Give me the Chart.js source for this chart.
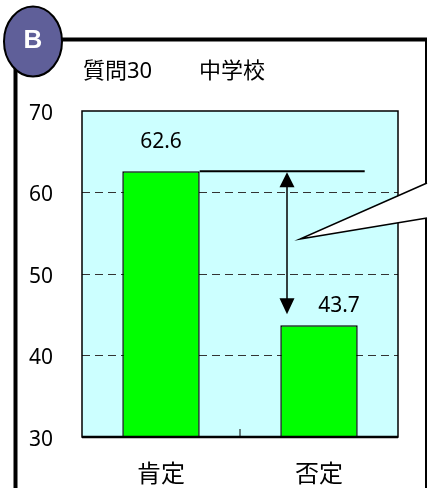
<!DOCTYPE html>
<html lang="ja">
<head>
<meta charset="UTF-8">
<title>質問30 中学校</title>
<script src="https://cdn.jsdelivr.net/npm/chart.js"></script>
<style>
  body { margin: 0; background: #fff; }
  #wrap { width: 428px; height: 488px; }
</style>
</head>
<body>
<div id="wrap"><canvas id="chart" width="428" height="488"></canvas></div>
<script>
// data
const categories = ['肯定', '否定'];
const values = [62.6, 43.7];
const yTicks = [30, 40, 50, 60, 70];
const titleLeft = '質問30';
const titleRight = '中学校';
const badge = 'B';

// latin digits from Noto Sans, kanji fall through to the CJK face
const FONT = '"Noto Sans", "Noto Sans CJK JP", sans-serif';

// page frame, callout, badge, arrow and value labels
const decor = {
  id: 'decor',
  beforeDraw(chart) {
    const ctx = chart.ctx, a = chart.chartArea;
    ctx.save();
    ctx.fillStyle = '#fff';
    ctx.fillRect(0, 0, chart.width, chart.height);
    ctx.fillStyle = '#ccffff';
    ctx.fillRect(a.left, a.top, a.right - a.left, a.bottom - a.top);
    ctx.restore();
  },
  afterDatasetsDraw(chart) {
    const ctx = chart.ctx, a = chart.chartArea;
    const y = chart.scales.y;
    const bars = chart.getDatasetMeta(0).data;
    ctx.save();

    // plot border
    ctx.strokeStyle = '#000';
    ctx.lineWidth = 1.5;
    ctx.strokeRect(a.left, a.top, a.right - a.left, a.bottom - a.top);
    ctx.lineWidth = 2.5;
    ctx.beginPath();
    ctx.moveTo(a.left, a.bottom);
    ctx.lineTo(a.right, a.bottom);
    ctx.stroke();
    // category divider tick
    const mid = (a.left + a.right) / 2;
    ctx.lineWidth = 1;
    ctx.beginPath();
    ctx.moveTo(mid, a.bottom);
    ctx.lineTo(mid, a.bottom - 8);
    ctx.stroke();

    // difference marker
    const yHi = y.getPixelForValue(values[0]);
    const yLo = y.getPixelForValue(values[1]);
    const b1 = bars[0], b2 = bars[1];
    ctx.lineWidth = 2;
    ctx.beginPath();
    ctx.moveTo(b1.x + b1.width / 2, yHi);
    ctx.lineTo(b2.x + b2.width / 2 + 7, yHi);
    ctx.stroke();
    const ax = b2.x - 32;
    const tip = yLo - 11;
    ctx.lineWidth = 1.5;
    ctx.beginPath();
    ctx.moveTo(ax, yHi + 10);
    ctx.lineTo(ax, tip - 12);
    ctx.stroke();
    ctx.fillStyle = '#000';
    ctx.beginPath();
    ctx.moveTo(ax, yHi + 1);
    ctx.lineTo(ax - 7.5, yHi + 16);
    ctx.lineTo(ax + 7.5, yHi + 16);
    ctx.closePath();
    ctx.fill();
    ctx.beginPath();
    ctx.moveTo(ax, tip);
    ctx.lineTo(ax - 7.5, tip - 16);
    ctx.lineTo(ax + 7.5, tip - 16);
    ctx.closePath();
    ctx.fill();

    // value labels
    ctx.font = '21px ' + FONT;
    ctx.textAlign = 'center';
    ctx.textBaseline = 'middle';
    ctx.fillText(values[0].toFixed(1), b1.x, yHi - 29);
    ctx.fillText(values[1].toFixed(1), b2.x + 20, yLo - 19);

    // outer frame
    ctx.strokeStyle = '#000';
    ctx.lineWidth = 4;
    ctx.beginPath();
    ctx.moveTo(15.5, 488);
    ctx.lineTo(15.5, 39.5);
    ctx.lineTo(427, 39.5);
    ctx.stroke();
    ctx.lineWidth = 2;
    ctx.beginPath();
    ctx.moveTo(426, 38);
    ctx.lineTo(426, 184);
    ctx.moveTo(426, 217);
    ctx.lineTo(426, 488);
    ctx.stroke();

    // callout pointer
    ctx.fillStyle = '#fff';
    ctx.beginPath();
    ctx.moveTo(428, 183);
    ctx.lineTo(300, 239);
    ctx.lineTo(428, 218);
    ctx.closePath();
    ctx.fill();
    ctx.lineWidth = 1.5;
    ctx.beginPath();
    ctx.moveTo(427, 183);
    ctx.lineTo(300, 239);
    ctx.lineTo(427, 218);
    ctx.stroke();

    // title
    ctx.fillStyle = '#000';
    ctx.font = '22px ' + FONT;
    ctx.textAlign = 'left';
    ctx.textBaseline = 'middle';
    ctx.fillText(titleLeft, 83, 72);
    ctx.fillText(titleRight, 199, 72);

    // badge
    ctx.fillStyle = '#5f5f99';
    ctx.lineWidth = 2;
    ctx.beginPath();
    ctx.ellipse(33, 41.5, 29, 35, 0, 0, Math.PI * 2);
    ctx.fill();
    ctx.stroke();
    ctx.fillStyle = '#fff';
    ctx.font = 'bold 26px "Liberation Sans", Arial, sans-serif';
    ctx.textAlign = 'center';
    ctx.fillText(badge, 33, 41);

    ctx.restore();
  }
};

new Chart(document.getElementById('chart'), {
  type: 'bar',
  data: {
    labels: categories,
    datasets: [{
      data: values,
      base: yTicks[0],
      backgroundColor: '#00ff00',
      borderColor: '#000',
      borderWidth: 1.5,
      barPercentage: 0.49,
      categoryPercentage: 1
    }]
  },
  options: {
    responsive: false,
    animation: false,
    layout: { padding: { top: 111, right: 30, bottom: 0, left: 0 } },
    plugins: { legend: { display: false }, tooltip: { enabled: false }, title: { display: false } },
    scales: {
      x: {
        grid: { display: false },
        border: { display: false },
        ticks: { color: '#000', font: { size: 24, family: FONT }, padding: 16 },
        afterFit(s) { s.height = 51; }
      },
      y: {
        min: yTicks[0],
        max: yTicks[yTicks.length - 1],
        afterBuildTicks(s) { s.ticks = yTicks.map(v => ({ value: v })); },
        grid: {
          drawTicks: false,
          lineWidth: 1,
          color: c => (c.tick && c.tick.value > yTicks[0] && c.tick.value < yTicks[yTicks.length - 1]) ? '#333' : 'rgba(0,0,0,0)'
        },
        border: { display: false, dash: [8, 5] },
        ticks: { color: '#000', font: { size: 21, family: FONT }, padding: 29, labelOffset: 3 },
        afterFit(s) { s.width = 82; }
      }
    }
  },
  plugins: [decor]
});
</script>
</body>
</html>
